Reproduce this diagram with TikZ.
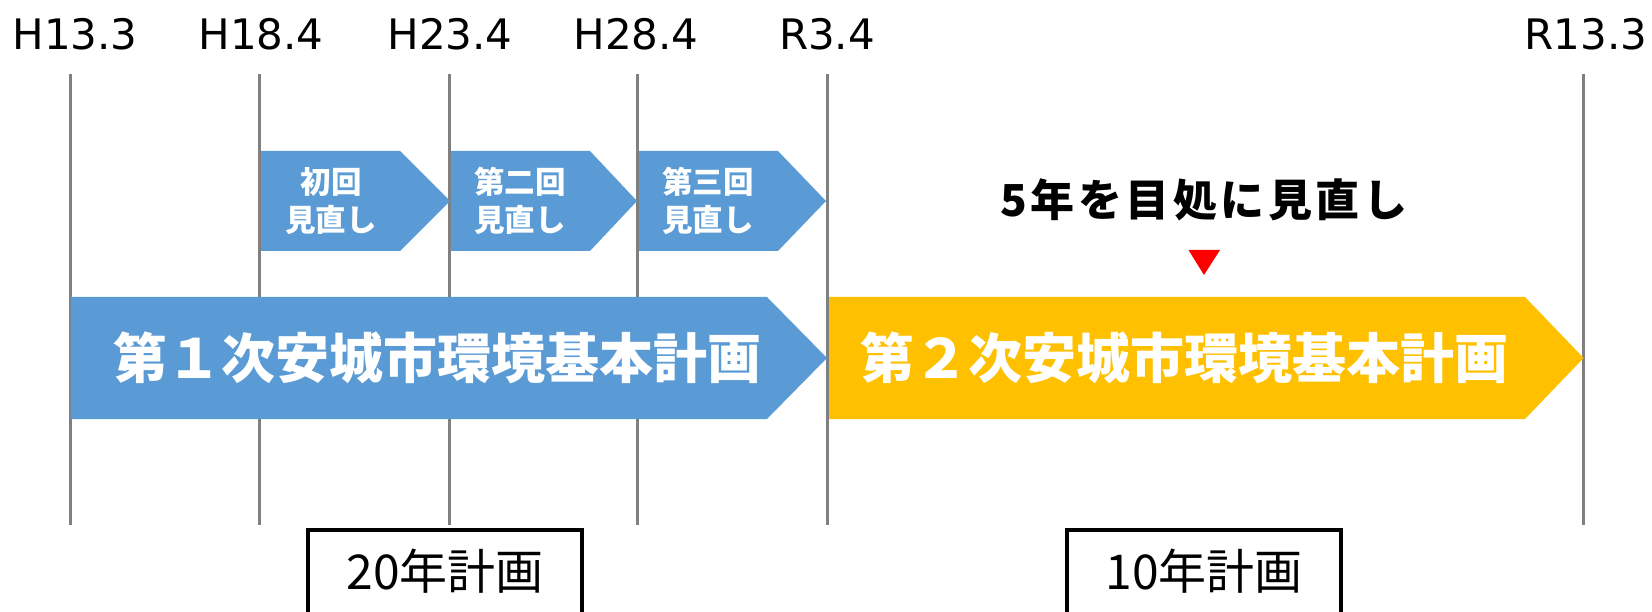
\documentclass[tikz,border=0pt]{standalone}
\usepackage{fontspec}
\setmainfont{DejaVu Sans}
\newfontfamily\jp{Noto Sans CJK JP}
\definecolor{planblue}{HTML}{5B9BD5}
\definecolor{planyellow}{HTML}{FFC000}
\definecolor{linegray}{HTML}{808080}
\definecolor{markred}{HTML}{FF0000}
\tikzset{
  vline/.style={draw=linegray,line width=3pt},
  toplabel/.style={font=\fontsize{42}{50}\selectfont,text=black,inner sep=0pt},
  bluearrow/.style={fill=planblue},
  yellowarrow/.style={fill=planyellow},
  smalltext/.style={font=\jp\bfseries\fontsize{30.5}{38}\selectfont,text=white,align=center,inner sep=0pt},
  bigtext/.style={font=\jp\bfseries\fontsize{54}{60}\selectfont,text=white,inner sep=0pt},
  revtext/.style={font=\jp\bfseries\fontsize{44}{50}\selectfont\addfontfeature{LetterSpace=8},text=black,inner sep=0pt},
  boxtext/.style={font=\jp\fontsize{48}{54}\selectfont,text=black,inner sep=0pt},
  spanbox/.style={draw=black,line width=4pt}
}
\begin{document}
\begin{tikzpicture}[x=1pt,y=-1pt]
\useasboundingbox (0,0) rectangle (1652,612);
\clip (0,0) rectangle (1652,612);
% vertical lines
\foreach \i/\x in {1/70.6,2/259.2,3/449.9,4/637.4,5/827.1,6/1583.6}{
  \coordinate (t\i) at (\x,74);
  \coordinate (b\i) at (\x,525);
  \draw[vline] (t\i) -- (b\i);
}
% top labels
\node[toplabel] (l1) at (75,34) {H13.3};
\node[toplabel] (l2) at (261,34) {H18.4};
\node[toplabel] (l3) at (450,34) {H23.4};
\node[toplabel] (l4) at (636,34) {H28.4};
\node[toplabel] (l5) at (827,34) {R3.4};
\node[toplabel] (l6) at (1586,34) {R13.3};
% small review arrows
\fill[bluearrow] (261,151) -- (400,151) -- (450,201) -- (400,251) -- (261,251) -- cycle;
\fill[bluearrow] (451,151) -- (590,151) -- (637,201) -- (590,251) -- (451,251) -- cycle;
\fill[bluearrow] (639,151) -- (778,151) -- (826,201) -- (778,251) -- (639,251) -- cycle;
\node[smalltext] (r1) at (331,201) {初回\\見直し};
\node[smalltext] (r2) at (520,201) {第二回\\見直し};
\node[smalltext] (r3) at (708,201) {第三回\\見直し};
% main plan arrows
\fill[bluearrow] (70.6,297) -- (767,297) -- (827,358) -- (767,419) -- (70.6,419) -- cycle;
\fill[yellowarrow] (829,297) -- (1525,297) -- (1583.6,358) -- (1525,419) -- (829,419) -- cycle;
\node[bigtext] (p1) at (437,358) {第１次安城市環境基本計画};
\node[bigtext] (p2) at (1184,358) {第２次安城市環境基本計画};
% review note
\node[revtext] (note) at (1204,200) {5年を目処に見直し};
\fill[markred] (1188.5,250) -- (1220,250) -- (1204,275) -- cycle;
% span boxes
\draw[spanbox] (307.6,530) rectangle (581.6,640);
\draw[spanbox] (1067,530) rectangle (1341,640);
\node[boxtext] (s1) at (445,571) {20年計画};
\node[boxtext] (s2) at (1204,571) {10年計画};
\end{tikzpicture}
\end{document}
